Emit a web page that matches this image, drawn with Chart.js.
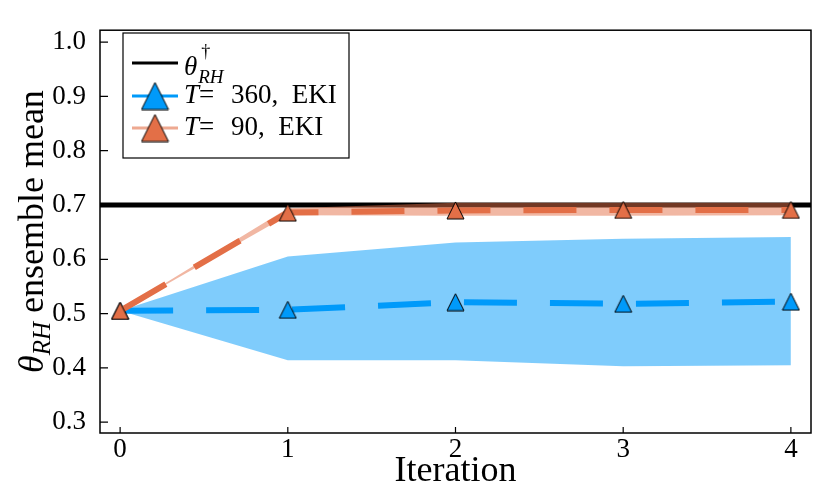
<!DOCTYPE html>
<html>
<head>
<meta charset="utf-8">
<script src="https://cdn.jsdelivr.net/npm/chart.js@4"></script>
<style>
  html, body { margin: 0; padding: 0; background: #fff; }
</style>
</head>
<body>
<canvas id="ensembleChart" width="830" height="498"></canvas>
<script>
// data
const iterations = [0, 1, 2, 3, 4];
const xTicks = [0, 1, 2, 3, 4];
const yTicks = [0.3, 0.4, 0.5, 0.6, 0.7, 0.8, 0.9, 1.0];
const xLimits = [-0.12, 4.12];
const yLimits = [0.28, 1.022];

const thetaTrue = 0.70;

const meanT360 = [0.505, 0.507, 0.521, 0.518, 0.522];
const upperT360 = [0.505, 0.605, 0.631, 0.638, 0.641];
const lowerT360 = [0.505, 0.414, 0.414, 0.403, 0.405];

const meanT90 = [0.505, 0.686, 0.690, 0.691, 0.691];
const upperT90 = [0.505, 0.694, 0.704, 0.704, 0.704];
const lowerT90 = [0.505, 0.681, 0.680, 0.680, 0.681];

const BLUE = "#009AFA";
const ORANGE = "#E36F47";
const SERIF = "'Liberation Serif', 'DejaVu Serif', serif";

function pts(values) {
    return iterations.map((it, i) => ({ x: it, y: values[i] }));
}

// upward triangle marker, same height and width like the GR markers
function triangle(fill, size) {
    const c = document.createElement("canvas");
    c.width = size + 2;
    c.height = size + 2;
    const g = c.getContext("2d");
    g.beginPath();
    g.moveTo(c.width / 2, 1);
    g.lineTo(c.width - 1, c.height - 1);
    g.lineTo(1, c.height - 1);
    g.closePath();
    g.fillStyle = fill;
    g.fill();
    g.strokeStyle = "#000";
    g.lineWidth = 1;
    g.stroke();
    return c;
}

const blueMark = triangle(BLUE, 17);
const orangeMark = triangle(ORANGE, 17);
const blueMarkBig = triangle(BLUE, 27);
const orangeMarkBig = triangle(ORANGE, 27);

// frame, inward ticks, y title and legend
const decorations = {
    id: "decorations",
    afterDraw(chart) {
        const { ctx, chartArea: a, scales } = chart;
        ctx.save();

        ctx.strokeStyle = "#000";
        ctx.lineWidth = 1.5;
        ctx.strokeRect(a.left, a.top, a.right - a.left, a.bottom - a.top);

        ctx.lineWidth = 1.2;
        ctx.beginPath();
        yTicks.forEach((v) => {
            const py = scales.y.getPixelForValue(v);
            ctx.moveTo(a.left, py);
            ctx.lineTo(a.left + 8, py);
        });
        xTicks.forEach((v) => {
            const px = scales.x.getPixelForValue(v);
            ctx.moveTo(px, a.bottom);
            ctx.lineTo(px, a.bottom - 6);
        });
        ctx.stroke();

        // y axis title: theta_RH ensemble mean
        ctx.fillStyle = "#000";
        ctx.textBaseline = "alphabetic";
        ctx.textAlign = "left";
        const big = "36px " + SERIF;
        const bigIt = "italic 36px " + SERIF;
        const subIt = "italic 25px " + SERIF;
        ctx.font = bigIt;
        const wTheta = ctx.measureText("θ").width;
        ctx.font = subIt;
        const wSub = ctx.measureText("RH").width;
        ctx.font = big;
        const wRest = ctx.measureText(" ensemble mean").width;
        const total = wTheta + wSub + wRest;
        ctx.translate(43, (a.top + a.bottom) / 2);
        ctx.rotate(-Math.PI / 2);
        let tx = -total / 2;
        ctx.font = bigIt;
        ctx.fillText("θ", tx, 0);
        tx += wTheta;
        ctx.font = subIt;
        ctx.fillText("RH", tx, 7);
        tx += wSub;
        ctx.font = big;
        ctx.fillText(" ensemble mean", tx, 0);
        ctx.setTransform(1, 0, 0, 1, 0, 0);

        // legend
        const lx = 123, ly = 33, lw = 226, lh = 125;
        ctx.fillStyle = "#fff";
        ctx.fillRect(lx, ly, lw, lh);
        ctx.strokeStyle = "#000";
        ctx.lineWidth = 1.2;
        ctx.strokeRect(lx, ly, lw, lh);

        const sample = (color, y) => {
            ctx.strokeStyle = color;
            ctx.lineWidth = 3;
            ctx.beginPath();
            ctx.moveTo(132, y);
            ctx.lineTo(178, y);
            ctx.stroke();
        };
        const textX = 184;
        const font = "27px " + SERIF;
        const fontIt = "italic 27px " + SERIF;

        sample("#000", 63);
        ctx.fillStyle = "#000";
        ctx.font = fontIt;
        ctx.fillText("θ", textX, 75);
        const th = ctx.measureText("θ").width;
        ctx.font = "18px " + SERIF;
        ctx.fillText("†", textX + th + 4, 57);
        ctx.font = "italic 19px " + SERIF;
        ctx.fillText("RH", textX + th + 1, 83);

        const entry = (color, mark, y, num) => {
            sample(color, y);
            ctx.drawImage(mark, 155 - mark.width / 2, y - mark.height / 2);
            ctx.fillStyle = "#000";
            ctx.font = fontIt;
            ctx.fillText("T", textX, y + 7);
            let x = textX + ctx.measureText("T").width;
            ctx.font = font;
            ctx.fillText("=", x, y + 7);
            x += ctx.measureText("= ").width + 10;
            ctx.fillText(num + ",  EKI", x, y + 7);
        };
        entry(BLUE, blueMarkBig, 96, "360");
        entry("rgba(227,111,71,0.6)", orangeMarkBig, 128, "90");

        ctx.restore();
    },
};

new Chart(document.getElementById("ensembleChart"), {
    type: "line",
    data: {
        datasets: [
            {
                label: "θ†",
                data: [
                    { x: xLimits[0], y: thetaTrue },
                    { x: xLimits[1], y: thetaTrue },
                ],
                borderColor: "#000",
                borderWidth: 5,
                pointRadius: 0,
                order: 10,
            },
            {
                label: "T=360 upper",
                data: pts(upperT360),
                borderWidth: 0,
                borderColor: "rgba(0,0,0,0)",
                backgroundColor: "rgba(0,154,250,0.5)",
                pointRadius: 0,
                fill: "+1",
                order: 9,
            },
            {
                label: "T=360 lower",
                data: pts(lowerT360),
                borderWidth: 0,
                borderColor: "rgba(0,0,0,0)",
                pointRadius: 0,
                fill: false,
                order: 9,
            },
            {
                label: "T = 360, EKI",
                data: pts(meanT360),
                borderColor: BLUE,
                borderWidth: 6,
                borderDash: [53, 33],
                pointStyle: blueMark,
                pointRadius: 9,
                order: 8,
            },
            {
                label: "T=90 upper",
                data: pts(upperT90),
                borderWidth: 0,
                borderColor: "rgba(0,0,0,0)",
                backgroundColor: "rgba(227,111,71,0.5)",
                pointRadius: 0,
                fill: "+1",
                order: 7,
            },
            {
                label: "T=90 lower",
                data: pts(lowerT90),
                borderWidth: 0,
                borderColor: "rgba(0,0,0,0)",
                pointRadius: 0,
                fill: false,
                order: 7,
            },
            {
                label: "T = 90, EKI",
                data: pts(meanT90),
                borderColor: ORANGE,
                borderWidth: 6,
                borderDash: [53, 33],
                pointStyle: orangeMark,
                pointRadius: 9,
                order: 6,
            },
        ],
    },
    options: {
        responsive: false,
        animation: false,
        events: [],
        layout: { padding: { left: 0, top: 19, right: 19, bottom: 0 } },
        elements: { line: { tension: 0 } },
        plugins: {
            legend: { display: false },
            tooltip: { enabled: false },
        },
        scales: {
            x: {
                type: "linear",
                min: xLimits[0],
                max: xLimits[1],
                grid: { display: false, drawTicks: false },
                border: { display: false },
                afterBuildTicks: (s) => { s.ticks = xTicks.map((v) => ({ value: v })); },
                afterFit: (s) => { s.height = 65; },
                ticks: {
                    color: "#000",
                    padding: 1,
                    maxRotation: 0,
                    font: { family: SERIF, size: 27 },
                    callback: (v) => String(v),
                },
                title: {
                    display: true,
                    text: "Iteration",
                    color: "#000",
                    font: { family: SERIF, size: 36 },
                    padding: { top: 0, bottom: 5 },
                },
            },
            y: {
                min: yLimits[0],
                max: yLimits[1],
                grid: { display: false, drawTicks: false },
                border: { display: false },
                afterBuildTicks: (s) => { s.ticks = yTicks.map((v) => ({ value: v })); },
                afterFit: (s) => { s.width = 100; },
                ticks: {
                    color: "#000",
                    padding: 14,
                    font: { family: SERIF, size: 27 },
                    callback: (v) => v.toFixed(1),
                },
            },
        },
    },
    plugins: [decorations],
});
</script>
</body>
</html>
